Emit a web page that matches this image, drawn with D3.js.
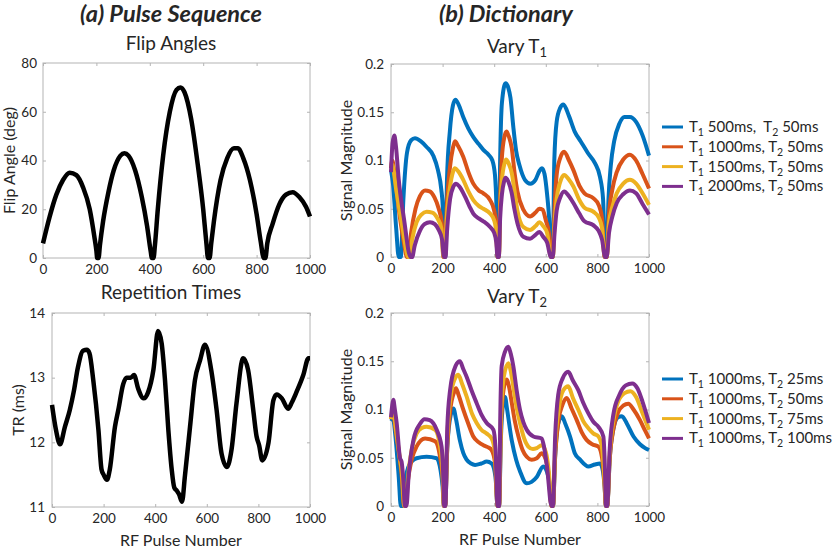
<!DOCTYPE html>
<html><head><meta charset="utf-8">
<script src="https://cdn.jsdelivr.net/npm/d3@7"></script>
<style>
html,body{margin:0;padding:0;background:#fff;}
svg text{font-family:Lato,"Open Sans",sans-serif;fill:#262626;}
</style></head>
<body><svg id="c" width="834" height="549"></svg>
<script>
// ---------- DATA ----------
const xTicks = [0,200,400,600,800,1000];
const flipTicks = [0,20,40,60,80];
const trTicks = [11,12,13,14];
const sigTicks = [0,0.05,0.1,0.15,0.2];

const flipAngle = [[0,6],[25,17],[50,26],[75,32],[100,35],[125,34],[150,29],[175,20],[192,9],[200,3],[203,0],[208,0],[213,5],
[225,15],[245,27],[265,36],[290,42],[305,43],[320,42],[345,36],[370,25],[390,13],[403,3],[408,0],[414,0],[419,5],
[430,20],[450,42],[475,60],[500,69],[515,70],[530,68],[555,57],[580,38],[600,20],[612,6],[618,0],[624,0],[630,6],
[640,15],[665,32],[690,41],[715,45],[730,45],[750,41],[775,32],[800,18],[815,7],[827,0],[833,0],[840,6],
[860,14],[885,22],[910,26],[935,27],[960,25],[985,21],[1000,17]];

const repTime = [[0,12.58],[15,12.2],[31,11.97],[50,12.24],[69,12.5],[85,12.8],[100,13.15],[121,13.42],[135,13.43],[145,13.38],[160,12.96],[180,12.19],[192,11.58],[200,11.5],[213,11.42],[224,11.58],[244,12.24],[257,12.5],[276,12.9],[289,13.0],[305,13.0],[318,13.04],[334,12.83],[355,12.68],[373,12.78],[393,13.12],[411,13.72],[425,13.53],[438,12.96],[451,12.19],[464,11.58],[474,11.3],[484,11.25],[492,11.2],[504,11.08],[515,11.47],[535,12.24],[554,12.96],[574,13.27],[593,13.51],[619,13.07],[638,12.5],[657,11.83],[678,11.62],[696,11.89],[715,12.6],[741,13.3],[760,13.12],[780,12.5],[793,12.09],[803,11.95],[815,11.72],[839,11.99],[858,12.65],[871,12.74],[891,12.68],[915,12.52],[930,12.62],[948,12.78],[974,13.04],[994,13.3],[1000,13.3]];

const t1Blue = [[0,0.09],[8,0.075],[20,0.03],[30,0],[38,0],[48,0.06],[62,0.108],[78,0.121],[93,0.123],[115,0.12],[138,0.114],[164,0.105],[182,0.09],[195,0.07],[201,0.05],[205,0],[211,0],
[217,0.08],[228,0.13],[240,0.157],[250,0.163],[262,0.158],[280,0.145],[300,0.133],[320,0.124],[340,0.117],[358,0.111],[378,0.106],[393,0.1],[403,0.085],[409,0.05],[413,0],[418,0],
[423,0.1],[430,0.16],[444,0.18],[455,0.175],[463,0.165],[474,0.135],[485,0.11],[498,0.095],[519,0.08],[540,0.076],[560,0.08],[575,0.089],[585,0.092],[595,0.086],[605,0.065],[613,0.04],[620,0],[627,0],
[633,0.1],[642,0.14],[655,0.154],[668,0.158],[690,0.146],[712,0.13],[735,0.12],[765,0.107],[791,0.097],[810,0.083],[822,0.06],[830,0],[836,0],
[843,0.06],[852,0.095],[865,0.12],[885,0.138],[905,0.145],[926,0.145],[950,0.14],[975,0.126],[1000,0.105]];
const t1Orange = [[0,0.092],[5,0.1],[12,0.09],[30,0.05],[50,0.015],[62,0],[68,0],[78,0.025],[95,0.05],[112,0.063],[132,0.069],[150,0.068],[168,0.062],[185,0.05],[197,0.035],[203,0],[209,0],
[216,0.05],[229,0.094],[240,0.113],[248,0.12],[260,0.115],[280,0.104],[300,0.088],[319,0.076],[340,0.069],[358,0.066],[384,0.059],[400,0.048],[408,0.03],[413,0],[418,0],
[423,0.06],[429,0.1],[440,0.125],[448,0.13],[458,0.124],[468,0.113],[480,0.085],[490,0.068],[513,0.049],[539,0.042],[560,0.046],[575,0.05],[588,0.049],[600,0.038],[612,0.025],[620,0],[627,0],
[634,0.05],[642,0.085],[655,0.102],[671,0.109],[690,0.1],[707,0.09],[730,0.074],[750,0.066],[784,0.061],[805,0.054],[818,0.04],[828,0],[836,0],
[845,0.045],[858,0.07],[875,0.088],[900,0.101],[926,0.106],[950,0.1],[975,0.086],[1000,0.071]];
const t1Yellow = [[0,0.097],[6,0.095],[20,0.07],[45,0.03],[67,0],[72,0],[82,0.018],[99,0.036],[118,0.044],[138,0.047],[160,0.046],[180,0.04],[195,0.03],[203,0],[209,0],
[216,0.04],[229,0.073],[240,0.088],[248,0.092],[260,0.089],[280,0.08],[300,0.068],[319,0.059],[340,0.053],[358,0.05],[384,0.045],[400,0.038],[408,0.025],[413,0],[418,0],
[423,0.05],[430,0.08],[440,0.097],[446,0.101],[456,0.097],[468,0.087],[478,0.07],[490,0.048],[513,0.031],[539,0.028],[560,0.032],[575,0.036],[590,0.032],[605,0.025],[620,0],[627,0],
[634,0.035],[642,0.06],[655,0.077],[671,0.085],[690,0.08],[707,0.073],[730,0.059],[750,0.051],[784,0.047],[805,0.041],[818,0.03],[828,0],[836,0],
[845,0.035],[858,0.052],[875,0.066],[900,0.076],[926,0.08],[950,0.076],[975,0.066],[1000,0.054]];
const t1Purple = [[0,0.088],[6,0.118],[13,0.126],[19,0.115],[30,0.08],[50,0.04],[76,0],[82,0],[92,0.012],[112,0.027],[130,0.034],[151,0.036],[170,0.034],[185,0.028],[198,0.018],[205,0],[211,0],
[218,0.03],[229,0.06],[242,0.073],[252,0.076],[265,0.073],[287,0.0625],[305,0.052],[319,0.045],[340,0.04],[358,0.037],[384,0.031],[400,0.025],[408,0.015],[413,0],[418,0],
[423,0.04],[430,0.065],[438,0.078],[444,0.082],[455,0.078],[468,0.066],[478,0.05],[490,0.035],[513,0.021],[539,0.019],[560,0.023],[575,0.026],[590,0.021],[605,0.015],[620,0],[627,0],
[634,0.025],[642,0.048],[655,0.061],[671,0.068],[690,0.063],[707,0.056],[730,0.045],[750,0.037],[784,0.033],[805,0.027],[818,0.018],[830,0],[836,0],
[845,0.025],[858,0.042],[875,0.056],[900,0.065],[926,0.069],[950,0.066],[975,0.055],[1000,0.044]];

const t2Blue = [[0,0.088],[8,0.09],[18,0.07],[30,0.03],[38,0],[46,0],[55,0.025],[70,0.042],[99,0.0495],[138,0.051],[177,0.0495],[192,0.037],[200,0.02],[205,0],[210,0],
[218,0.06],[232,0.095],[242,0.101],[252,0.09],[267,0.068],[280,0.055],[293,0.048],[310,0.044],[326,0.0425],[350,0.044],[371,0.046],[390,0.044],[405,0.03],[413,0],[419,0],
[426,0.07],[434,0.105],[442,0.113],[450,0.1],[468,0.068],[485,0.048],[500,0.036],[526,0.0235],[545,0.025],[565,0.03],[590,0.041],[605,0.035],[616,0.02],[622,0],[628,0],
[636,0.05],[648,0.085],[662,0.093],[676,0.085],[694,0.072],[712,0.055],[733,0.048],[765,0.041],[790,0.043],[810,0.044],[820,0.038],[828,0.02],[833,0],[838,0],
[848,0.05],[862,0.08],[880,0.092],[895,0.093],[915,0.085],[940,0.072],[965,0.064],[985,0.06],[1000,0.058]];
const t2Orange = [[0,0.09],[8,0.095],[20,0.075],[33,0.05],[42,0.03],[50,0],[56,0],[65,0.025],[80,0.048],[99,0.0615],[132,0.07],[171,0.067],[190,0.051],[200,0.03],[205,0],[210,0],
[218,0.06],[230,0.1],[245,0.118],[252,0.122],[262,0.115],[280,0.1],[300,0.085],[319,0.072],[340,0.066],[358,0.063],[375,0.061],[390,0.058],[403,0.045],[413,0],[419,0],
[426,0.08],[436,0.12],[448,0.131],[458,0.123],[468,0.107],[480,0.088],[494,0.072],[510,0.058],[526,0.051],[545,0.048],[565,0.0495],[584,0.0547],[600,0.048],[612,0.03],[622,0],[628,0],
[636,0.05],[650,0.09],[665,0.105],[681,0.112],[700,0.101],[720,0.089],[740,0.076],[758,0.0685],[780,0.064],[804,0.0616],[818,0.05],[827,0.025],[833,0],[838,0],
[848,0.05],[862,0.08],[880,0.097],[900,0.104],[920,0.106],[940,0.1],[965,0.089],[985,0.078],[1000,0.07]];
const t2Yellow = [[0,0.09],[8,0.1],[20,0.078],[33,0.052],[42,0.035],[52,0],[58,0],[66,0.03],[80,0.058],[99,0.075],[120,0.081],[138,0.082],[171,0.079],[190,0.0616],[200,0.035],[205,0],[210,0],
[218,0.07],[232,0.115],[248,0.132],[261,0.136],[275,0.127],[293,0.1135],[315,0.095],[332,0.086],[350,0.079],[371,0.075],[390,0.07],[403,0.055],[413,0],[419,0],
[426,0.09],[438,0.135],[455,0.148],[464,0.14],[474,0.124],[487,0.102],[500,0.086],[516,0.07],[532,0.0616],[550,0.059],[565,0.06],[584,0.063],[600,0.056],[612,0.035],[622,0],[628,0],
[636,0.06],[650,0.1],[668,0.12],[687,0.124],[705,0.112],[726,0.0997],[745,0.088],[765,0.0806],[785,0.075],[804,0.072],[818,0.06],[827,0.03],[833,0],[838,0],
[848,0.055],[862,0.088],[880,0.108],[905,0.117],[928,0.119],[950,0.113],[975,0.096],[1000,0.079]];
const t2Purple = [[0,0.092],[5,0.105],[9,0.11],[15,0.1],[22,0.086],[35,0.0495],[41,0.046],[47,0.03],[54,0],[60,0],[68,0.03],[87,0.0685],[112,0.085],[130,0.09],[150,0.089],[177,0.079],[196,0.0616],[202,0.035],[206,0],[211,0],
[218,0.08],[229,0.12],[250,0.145],[267,0.15],[280,0.142],[293,0.134],[312,0.12],[332,0.1066],[350,0.095],[371,0.086],[397,0.079],[405,0.06],[413,0],[419,0],
[424,0.1],[429,0.145],[442,0.16],[455,0.165],[464,0.158],[474,0.145],[487,0.12],[500,0.0997],[513,0.087],[526,0.079],[552,0.072],[584,0.07],[593,0.0616],[605,0.04],[622,0],[628,0],
[636,0.07],[648,0.115],[665,0.132],[687,0.139],[705,0.13],[726,0.12],[745,0.107],[765,0.096],[785,0.087],[804,0.082],[823,0.072],[829,0.04],[833,0],[838,0],
[848,0.06],[862,0.095],[885,0.115],[910,0.125],[935,0.127],[955,0.122],[975,0.108],[1000,0.086]];

const seriesColors = ["#0072BD","#D95319","#EDB120","#7E2F8E"];
const legendT1 = [["500ms,  ","50ms"],["1000ms, ","50ms"],["1500ms, ","50ms"],["2000ms, ","50ms"]];
const legendT2 = [["1000ms, ","25ms"],["1000ms, ","50ms"],["1000ms, ","75ms"],["1000ms, ","100ms"]];

// ---------- DRAW ----------
const svg = d3.select("#c");

function panel(opt){
  const x = d3.scaleLinear().domain([0,1000]).range([opt.x0,opt.x1]);
  const y = d3.scaleLinear().domain(opt.yDomain).range([opt.y1,opt.y0]);
  const g = svg.append("g");
  g.append("rect").attr("x",opt.x0).attr("y",opt.y0).attr("width",opt.x1-opt.x0).attr("height",opt.y1-opt.y0)
    .attr("fill","none").attr("stroke","#b4b4b4").attr("stroke-width",1);
  const styleAx = (sel)=>{ sel.select(".domain").remove();
    sel.selectAll(".tick line").attr("stroke","#b4b4b4");
    sel.selectAll(".tick text").style("font-size","13.5px").attr("fill","#262626"); };
  g.append("g").attr("transform",`translate(0,${opt.y1})`)
    .call(d3.axisBottom(x).tickValues(xTicks).tickSize(-3).tickPadding(6).tickFormat(d3.format("d"))).call(styleAx);
  g.append("g").attr("transform",`translate(0,${opt.y0})`)
    .call(d3.axisTop(x).tickValues(xTicks).tickSize(-3).tickFormat("")).call(styleAx);
  g.append("g").attr("transform",`translate(${opt.x0},0)`)
    .call(d3.axisLeft(y).tickValues(opt.yTicks).tickSize(-3).tickPadding(opt.yPad).tickFormat(d=>String(d))).call(styleAx);
  g.append("g").attr("transform",`translate(${opt.x1},0)`)
    .call(d3.axisRight(y).tickValues(opt.yTicks).tickSize(-3).tickFormat("")).call(styleAx);
  const line = d3.line().x(d=>x(d[0])).y(d=>y(d[1])).curve(d3.curveMonotoneX);
  opt.series.forEach((s,i)=>{
    g.append("path").datum(s).attr("d",line).attr("fill","none")
      .attr("stroke",opt.colors[i]).attr("stroke-width",opt.lw).attr("stroke-linejoin","round").attr("stroke-linecap","butt");
  });
  const t = g.append("text").attr("x",opt.titleX).attr("y",opt.titleY).attr("text-anchor","middle")
    .style("font-size","19px");
  t.append("tspan").text(opt.title);
  if(opt.titleSub){ t.append("tspan").attr("dy",4).style("font-size","13px").text(opt.titleSub); }
  g.append("text").attr("transform",`translate(${opt.yLabX},${(opt.y0+opt.y1)/2}) rotate(-90)`)
    .attr("text-anchor","middle").style("font-size","16px").text(opt.yLabel);
  if(opt.xLabel){
    g.append("text").attr("x",(opt.x0+opt.x1)/2).attr("y",opt.y1+39).attr("text-anchor","middle")
      .style("font-size","16px").text(opt.xLabel);
  }
}

panel({x0:43,x1:310,y0:63,y1:258,yDomain:[0,80],yTicks:flipTicks,yPad:6,series:[flipAngle],colors:["#000"],lw:4.5,
  title:"Flip Angles",titleX:171,titleY:50,yLabel:"Flip Angle (deg)",yLabX:15});
panel({x0:52,x1:310,y0:313,y1:507,yDomain:[11,14],yTicks:trTicks,yPad:7,series:[repTime],colors:["#000"],lw:4.5,
  title:"Repetition Times",titleX:171,titleY:299,yLabel:"TR (ms)",yLabX:24,xLabel:"RF Pulse Number"});
panel({x0:391,x1:649,y0:64,y1:257,yDomain:[0,0.2],yTicks:sigTicks,yPad:7,series:[t1Blue,t1Orange,t1Yellow,t1Purple],colors:seriesColors,lw:4,
  title:"Vary T",titleSub:"1",titleX:517,titleY:53,yLabel:"Signal Magnitude",yLabX:352});
panel({x0:391,x1:649,y0:313,y1:506,yDomain:[0,0.2],yTicks:sigTicks,yPad:7,series:[t2Blue,t2Orange,t2Yellow,t2Purple],colors:seriesColors,lw:4,
  title:"Vary T",titleSub:"2",titleX:517,titleY:303,yLabel:"Signal Magnitude",yLabX:352,xLabel:"RF Pulse Number"});

svg.append("text").attr("x",171).attr("y",22).attr("text-anchor","middle")
  .style("font-size","23.5px").style("font-weight","bold").style("font-style","italic").attr("fill","#000").text("(a) Pulse Sequence");
svg.append("text").attr("x",506).attr("y",22).attr("text-anchor","middle")
  .style("font-size","23.5px").style("font-weight","bold").style("font-style","italic").attr("fill","#000").text("(b) Dictionary");

function legend(items, y0){
  const g = svg.append("g");
  items.forEach((it,i)=>{
    const yy = y0 + i*19.8;
    g.append("line").attr("x1",662).attr("x2",683).attr("y1",yy).attr("y2",yy)
      .attr("stroke",seriesColors[i]).attr("stroke-width",3);
    const t = g.append("text").attr("x",689).attr("y",yy+5).style("font-size","15px").attr("xml:space","preserve")
      .style("white-space","pre");
    t.append("tspan").text("T");
    t.append("tspan").attr("dy",4).style("font-size","10.5px").text("1");
    t.append("tspan").attr("dy",-4).text(" "+it[0]+"T");
    t.append("tspan").attr("dy",4).style("font-size","10.5px").text("2");
    t.append("tspan").attr("dy",-4).text(" "+it[1]);
  });
}
legend(legendT1,127);
legend(legendT2,379);
</script></body></html>
